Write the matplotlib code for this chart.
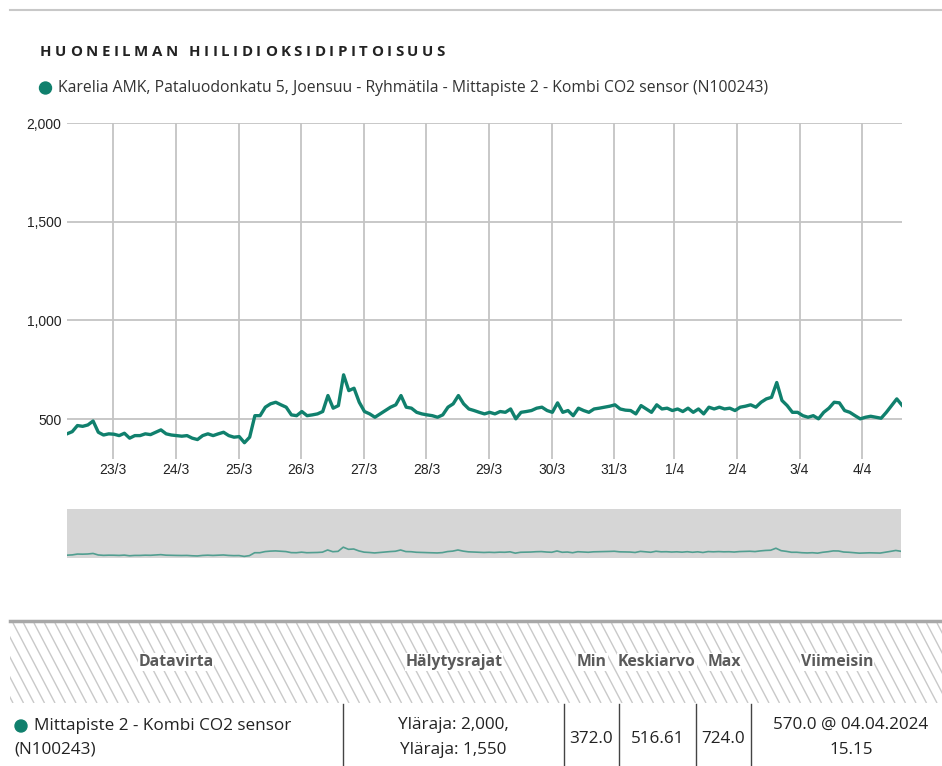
import numpy as np
import pandas as pd
import matplotlib
matplotlib.use("Agg")
import matplotlib.pyplot as plt
import matplotlib.dates as mdates
from matplotlib.patches import Circle, Rectangle
from matplotlib.collections import LineCollection

W, H = 942, 766
TEAL = "#10806d"
BODY = ["Open Sans", "DejaVu Sans"]
AXF = ["Liberation Sans", "DejaVu Sans"]

# CO2 (ppm), 2-hour readings from 22.3. 06:15 to 4.4. 15:15 (local time)
co2 = [
    425, 436, 467, 463, 470, 490, 433, 419, 425, 423,
    416, 428, 403, 416, 416, 425, 421, 433, 445, 425,
    419, 416, 413, 416, 403, 396, 416,
    425, 416, 425, 433, 416, 408, 411, 380, 408, 517,
    517, 560, 577, 585, 572, 560, 521, 517, 538, 517,
    521, 526, 538, 619, 555, 568, 724,
    644, 656, 585, 538, 526, 509, 526, 543, 560, 572,
    619, 560, 555, 534, 526, 521, 517, 509, 521, 560,
    577, 619, 577, 551, 543, 534, 526,
    534, 526, 538, 534, 551, 501, 534, 538, 543, 555,
    560, 543, 534, 582, 534, 543, 517, 555, 543, 534,
    551, 555, 560, 565, 572, 551, 545,
    543, 526, 568, 551, 534, 572, 551, 555, 543, 551,
    538, 555, 534, 551, 526, 560, 551, 560, 551, 555,
    543, 560, 565, 572, 560, 585,
    602, 610, 685, 594, 568, 534, 534, 517, 509, 517,
    501, 534, 555, 585, 582, 543, 534, 517, 501, 509,
    514, 509, 504, 534, 568, 602, 570,
]
# timestamps in UTC (naive), ticks at local (Helsinki) midnights -> DST shift on 31/3
times = pd.date_range("2024-03-22 04:15", periods=len(co2), freq="2h")
days_local = pd.date_range("2024-03-23", "2024-04-04", freq="D", tz="Europe/Helsinki")
days = days_local.tz_convert("UTC").tz_localize(None)
day_labels = [f"{d.day}/{d.month}" for d in days_local]
y_ticks = [500, 1000, 1500, 2000]

title = "HUONEILMAN HIILIDIOKSIDIPITOISUUS"
series_name = ("Karelia AMK, Pataluodonkatu 5, Joensuu - Ryhmätila - "
               "Mittapiste 2 - Kombi CO2 sensor (N100243)")
headers = ["Datavirta", "Hälytysrajat", "Min", "Keskiarvo", "Max", "Viimeisin"]
header_x = [176, 454, 592, 657, 724, 837]
stream = ["Mittapiste 2 - Kombi CO2 sensor", "(N100243)"]
alarm_limits = ["Yläraja: 2,000,", "Yläraja: 1,550"]
stats_txt = ["372.0", "516.61", "724.0"]
latest = ["570.0 @ 04.04.2024", "15.15"]
col_edges = [343, 564, 619, 696, 751]


def fx(x):
    return x / W


def fy(y):
    return 1 - y / H


fig = plt.figure(figsize=(W / 100, H / 100), dpi=100)

# overlay in pixel coords for text/decoration
deco = fig.add_axes([0, 0, 1, 1])
deco.set_xlim(0, W); deco.set_ylim(H, 0)
deco.axis("off")

deco.plot([10, W], [10, 10], color="#c8c8c8", lw=1.5)

# title with letter spacing
rend = fig.canvas.get_renderer()
tprops = dict(fontsize=10.8, fontweight="bold", color="#222222", family=BODY,
              va="center", ha="left")
widths = []
for ch in title:
    if ch == " ":
        widths.append(4.0)
        continue
    t = deco.text(0, 0, ch, **tprops)
    widths.append(t.get_window_extent(rend).width)
    t.remove()
gap = (445 - 40 - sum(widths)) / (len(title) - 1)
x = 40
for ch, w in zip(title, widths):
    if ch != " ":
        deco.text(x, 52, ch, **tprops)
    x += w + gap

# legend
deco.add_patch(Circle((45.5, 88), 6, color=TEAL))
deco.text(58, 88, series_name, fontsize=11.3, family=BODY, color="#333333",
          va="center", ha="left")

# main chart
ax = fig.add_axes([fx(67), fy(458.5), (902 - 67) / W, (458.5 - 123) / H])
ax.plot(times, co2, color=TEAL, lw=2.4, solid_joinstyle="round")
ax.set_ylim(300, 2000)
ax.set_xlim(times[0], times[-1])
ax.set_yticks(y_ticks)
ax.set_yticklabels([f"{v:,}" for v in y_ticks], family=AXF)
ax.set_xticks(days)
ax.set_xticklabels(day_labels, family=AXF)
ax.tick_params(length=0, labelsize=10, colors="#222222")
ax.tick_params(axis="x", pad=3)
ax.tick_params(axis="y", pad=4)
ax.grid(True, color="#c4c4c4", lw=1.3)
ax.set_axisbelow(True)
for s in ax.spines.values():
    s.set_visible(False)

# navigator
nav = fig.add_axes([fx(67), fy(558), (901 - 67) / W, 49 / H])
nav.set_facecolor("#d6d6d6")
nav.plot(times, co2, color="#3a9584", lw=1.2, alpha=0.85)
nav.set_ylim(320, 2150)
nav.set_xlim(times[0], times[-1])
nav.set_xticks([]); nav.set_yticks([])
for s in nav.spines.values():
    s.set_visible(False)

# table
hdr = Rectangle((10, 623), W - 10, 80, fc="none", ec="none", transform=deco.transData)
deco.add_patch(hdr)
segs = [[(x0, 623), (x0 + 42, 703)] for x0 in np.arange(-50, W + 10, 10.5)]
lc = LineCollection(segs, colors="#c9c9c9", linewidths=1.0)
deco.add_collection(lc)
lc.set_clip_path(hdr)
deco.plot([10, W], [621, 621], color="#a8a8a8", lw=2.5)

for name, hx in zip(headers, header_x):
    deco.text(hx, 662, name, fontsize=11.3, fontweight="bold", family=BODY,
              color="#5a5a5a", ha="center", va="center",
              bbox=dict(fc="white", ec="none", pad=0.5))

for cx in col_edges:
    deco.plot([cx, cx], [704, H], color="#444444", lw=1)

RS = 12.3
deco.add_patch(Circle((21, 726), 6, color=TEAL))
deco.text(34, 726, stream[0], fontsize=RS, family=BODY, color="#222222",
          ha="left", va="center")
deco.text(14, 750, stream[1], fontsize=RS, family=BODY, color="#222222",
          ha="left", va="center")
deco.text(453, 725, alarm_limits[0], fontsize=RS, family=BODY, color="#222222",
          ha="center", va="center")
deco.text(453, 750, alarm_limits[1], fontsize=RS, family=BODY, color="#222222",
          ha="center", va="center")
for sx, st in zip([591.5, 657.5, 723.5], stats_txt):
    deco.text(sx, 739, st, fontsize=RS, family=BODY, color="#222222",
              ha="center", va="center")
deco.text(851, 725, latest[0], fontsize=RS, family=BODY, color="#222222",
          ha="center", va="center")
deco.text(851, 750, latest[1], fontsize=RS, family=BODY, color="#222222",
          ha="center", va="center")

fig.savefig("out.png", dpi=100)
